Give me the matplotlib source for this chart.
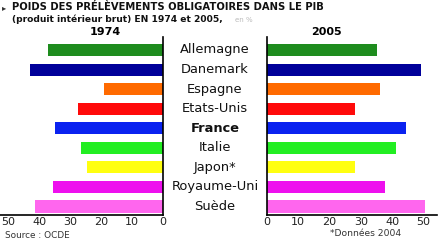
import matplotlib
matplotlib.use("Agg")
import matplotlib.pyplot as plt

countries = ["Allemagne", "Danemark", "Espagne", "Etats-Unis", "France",
             "Italie", "Japon*", "Royaume-Uni", "Suède"]
v1974 = [37, 43, 19, 27.5, 35, 26.5, 24.5, 35.5, 41.3]
v2005 = [35.2, 49.3, 36.2, 28.1, 44.4, 41.3, 28.3, 37.7, 50.5]
colors = ["#1e8c1e", "#00009a", "#ff6a00", "#ff0a0a", "#0a22f0",
          "#22ee22", "#ffff10", "#ee10ee", "#ff66ee"]
ticks = [0, 10, 20, 30, 40, 50]

W, H = 448, 244
fig = plt.figure(figsize=(W / 100, H / 100), dpi=100)

def box(x0, y0, x1, y1):
    return [x0 / W, 1 - y1 / H, (x1 - x0) / W, (y1 - y0) / H]

ypos = list(range(len(countries)))
ylim = (8.41, -0.67)

axL = fig.add_axes(box(0, 37, 163, 214.5))
axL.barh(ypos, v1974, height=0.62, color=colors)
axL.set_xlim(52.6, 0)
axL.set_ylim(*ylim)
axL.set_xticks(ticks)
axL.set_yticks([])
for s in ["top", "left"]:
    axL.spines[s].set_visible(False)
for s in ["right", "bottom"]:
    axL.spines[s].set_linewidth(1.2)
axL.tick_params(axis="x", length=0, pad=2, labelsize=8, colors="#222222")
axL.patch.set_alpha(0)

axR = fig.add_axes(box(266.5, 37, 437, 214.5))
axR.barh(ypos, v2005, height=0.62, color=colors)
axR.set_xlim(0, 54.3)
axR.set_ylim(*ylim)
axR.set_xticks(ticks)
axR.set_yticks([])
for s in ["top", "right"]:
    axR.spines[s].set_visible(False)
for s in ["left", "bottom"]:
    axR.spines[s].set_linewidth(1.2)
axR.tick_params(axis="x", length=0, pad=2, labelsize=8, colors="#222222")
axR.patch.set_alpha(0)

# country labels in the middle
for i, c in enumerate(countries):
    y = 50 + 19.5 * i
    fig.text(215 / W, 1 - y / H, c, ha="center", va="center", fontsize=9.4,
             color="#111111", fontweight="bold" if c == "France" else "normal")

fig.text(105 / W, 1 - 32 / H, "1974", ha="center", va="center", fontsize=8,
         fontweight="bold")
fig.text(326 / W, 1 - 32 / H, "2005", ha="center", va="center", fontsize=8,
         fontweight="bold")

fig.text(2 / W, 1 - 8 / H, "▸", ha="left", va="center", fontsize=6, color="#333333")
fig.text(12 / W, 1 - 7.5 / H, "POIDS DES PRÉLÈVEMENTS OBLIGATOIRES DANS LE PIB",
         ha="left", va="center", fontsize=7.2, color="#111111", fontweight="bold")
fig.text(12 / W, 1 - 19.5 / H, "(produit intérieur brut) EN 1974 et 2005,",
         ha="left", va="center", fontsize=6.6, color="#111111", fontweight="bold")
fig.text(235 / W, 1 - 20 / H, "en %", ha="left", va="center", fontsize=5,
         color="#bbbbbb")

fig.text(5 / W, 1 - 235 / H, "Source : OCDE", ha="left", va="center",
         fontsize=6.4, color="#333333")
fig.text(330 / W, 1 - 234 / H, "*Données 2004", ha="left", va="center",
         fontsize=6.6, color="#333333")

fig.savefig("out.png", dpi=100)
